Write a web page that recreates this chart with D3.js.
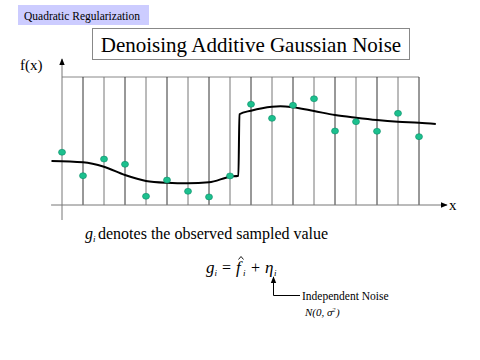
<!DOCTYPE html>
<html>
<head>
<meta charset="utf-8">
<script src="https://cdn.jsdelivr.net/npm/d3@7"></script>
<style>
  body { margin: 0; background: #fff; }
  svg text { font-family: "Liberation Serif", "DejaVu Serif", serif; }
</style>
</head>
<body>
<svg id="chart" width="480" height="360"></svg>
<script>
// sample positions (index) and observed values g_i
const samples = d3.range(18)
const observed = [4.12, 2.29, 3.59, 3.18, 0.68, 1.95, 1.07, 0.63, 2.27,
                  7.87, 6.77, 7.79, 8.30, 5.78, 6.51, 5.76, 7.16, 5.34]

// underlying function f(x), with a jump near x = 8.4
const curveX = [-0.5, 1.0, 2.0, 3.0, 4.0, 5.0, 6.0, 7.0, 8.0, 8.4, 8.45, 9.0, 10.0, 10.4, 11.0, 12.0, 13.0, 14.0, 15.0, 16.0, 17.0, 17.8]
const curveY = [3.44, 3.34, 2.99, 2.34, 1.88, 1.74, 1.70, 1.77, 2.21, 2.29, 7.09, 7.37, 7.68, 7.71, 7.63, 7.34, 7.03, 6.82, 6.64, 6.51, 6.43, 6.33]

const svg = d3.select("#chart")
const serif = "'Liberation Serif', 'DejaVu Serif', serif"

// scales: index -> px, value -> px
const x = d3.scaleLinear().domain([0, 17]).range([62, 419])
const y = d3.scaleLinear().domain([0, 10]).range([205, 77])

function txt(px, py, size, s, italic) {
  return svg.append("text").attr("x", px).attr("y", py).attr("font-size", size)
    .attr("font-family", serif).attr("font-style", italic ? "italic" : "normal").text(s)
}

// header tag
svg.append("rect").attr("x", 18).attr("y", 5).attr("width", 131).attr("height", 20).attr("fill", "#ccccff")
txt(24, 19.5, 11.5, "Quadratic Regularization")

// title box
svg.append("rect").attr("x", 92.5).attr("y", 28.5).attr("width", 317).attr("height", 31)
  .attr("fill", "#fff").attr("stroke", "#888")
txt(251, 52, 21, "Denoising Additive Gaussian Noise").attr("text-anchor", "middle")

// arrow marker
const defs = svg.append("defs")
defs.append("marker").attr("id", "arr").attr("viewBox", "0 0 10 10").attr("refX", 9).attr("refY", 5)
  .attr("markerWidth", 7).attr("markerHeight", 7).attr("orient", "auto-start-reverse")
  .attr("markerUnits", "userSpaceOnUse")
  .append("path").attr("d", "M0,1 L10,5 L0,9 Z").attr("fill", "#000")

// top frame line
svg.append("line").attr("x1", x(0)).attr("x2", x(17)).attr("y1", y(10)).attr("y2", y(10))
  .attr("stroke", "#888")

// vertical sample lines
svg.selectAll(".grid").data(samples.slice(1)).enter().append("line")
  .attr("class", "grid")
  .attr("x1", d => x(d)).attr("x2", d => x(d))
  .attr("y1", y(10)).attr("y2", y(0))
  .attr("stroke", (d, i) => i % 2 === 0 ? "#333" : "#777")

// axes
svg.append("line").attr("x1", x(-0.52)).attr("x2", 447).attr("y1", y(0)).attr("y2", y(0))
  .attr("stroke", "#777").attr("marker-end", "url(#arr)")
svg.append("line").attr("x1", x(0)).attr("x2", x(0)).attr("y1", 220).attr("y2", 59)
  .attr("stroke", "#777").attr("marker-end", "url(#arr)")
txt(449, 210, 15, "x")
txt(20, 70, 15, "f(x)")

// f(x) curve
const line = d3.line().x(d => x(d[0])).y(d => y(d[1])).curve(d3.curveMonotoneX)
svg.append("path").datum(d3.zip(curveX, curveY)).attr("d", line)
  .attr("fill", "none").attr("stroke", "#000").attr("stroke-width", 2)

// observed samples
svg.selectAll(".dot").data(d3.zip(samples, observed)).enter().append("ellipse")
  .attr("class", "dot")
  .attr("cx", d => x(d[0])).attr("cy", d => y(d[1]))
  .attr("rx", 3.5).attr("ry", 3)
  .attr("fill", "#1cc08e").attr("stroke", "#0e8c68").attr("stroke-width", 0.6)

// caption
txt(85, 239, 16, "g", true)
txt(93, 242, 9, "i", true)
txt(98, 239, 16, "denotes the observed sampled value")

// formula g_i = f^_i + eta_i
txt(206, 273, 17, "g", true)
txt(214.5, 276, 9, "i", true)
txt(222, 273, 16, "=")
txt(236, 273, 17, "f", true)
svg.append("path").attr("d", "M238.5,259.5 L241,256.5 L243.5,259.5")
  .attr("fill", "none").attr("stroke", "#000").attr("stroke-width", 0.9)
txt(243, 276, 9, "i", true)
txt(251, 273, 16, "+")
txt(265, 273, 17, "\u03b7", true)
txt(274, 276, 9, "i", true)

// noise annotation arrow
svg.append("path").attr("d", "M300,295.5 L273.5,295.5 L273.5,277")
  .attr("fill", "none").attr("stroke", "#000").attr("marker-end", "url(#arr)")
txt(302, 299.5, 11.5, "Independent Noise")
txt(305, 316, 11, "N(0, \u03c3", true)
txt(332, 312, 7, "2", true)
txt(336, 316, 11, ")", true)
</script>
</body>
</html>
